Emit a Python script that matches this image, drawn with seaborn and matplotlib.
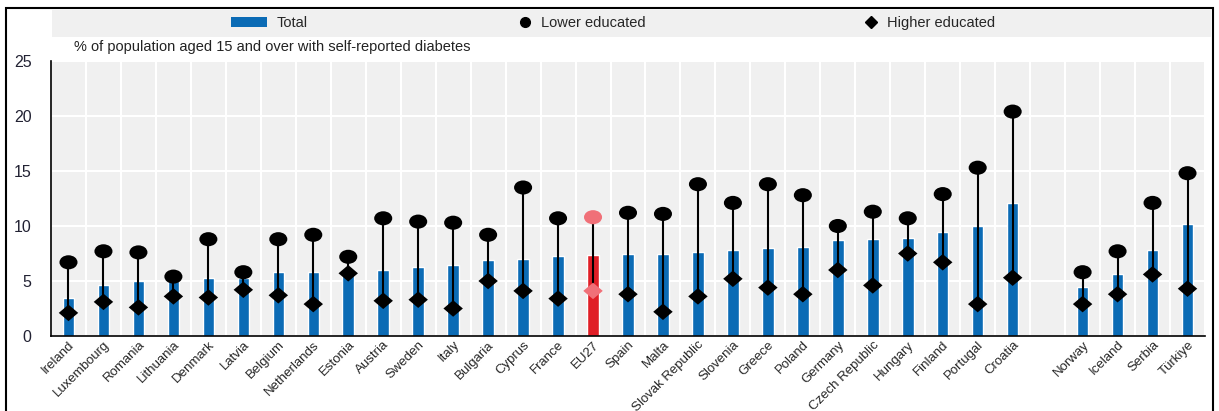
"""
Self-reported diabetes by education level
"""

import numpy as np
import pandas as pd
import matplotlib
matplotlib.use('Agg')
import matplotlib.pyplot as plt
from matplotlib.patches import Rectangle
from matplotlib.path import Path
from matplotlib.lines import Line2D
from matplotlib.patches import Patch
import seaborn as sns

# Data
countries = ['Ireland', 'Luxembourg', 'Romania', 'Lithuania', 'Denmark', 'Latvia',
             'Belgium', 'Netherlands', 'Estonia', 'Austria', 'Sweden', 'Italy',
             'Bulgaria', 'Cyprus', 'France', 'EU27', 'Spain', 'Malta',
             'Slovak Republic', 'Slovenia', 'Greece', 'Poland', 'Germany',
             'Czech Republic', 'Hungary', 'Finland', 'Portugal', 'Croatia',
             'Norway', 'Iceland', 'Serbia', 'Türkiye']
total = [3.5, 4.6, 5.0, 5.0, 5.3, 5.3, 5.8, 5.8, 5.7, 6.0, 6.3, 6.5, 6.9, 7.0,
         7.3, 7.4, 7.5, 7.5, 7.6, 7.8, 8.0, 8.1, 8.7, 8.8, 8.9, 9.5, 10.0, 12.1,
         4.5, 5.6, 7.8, 10.2]
lower = [6.7, 7.7, 7.6, 5.4, 8.8, 5.8, 8.8, 9.2, 7.2, 10.7, 10.4, 10.3, 9.2, 13.5,
         10.7, 10.8, 11.2, 11.1, 13.8, 12.1, 13.8, 12.8, 10.0, 11.3, 10.7, 12.9,
         15.3, 20.4, 5.8, 7.7, 12.1, 14.8]
higher = [2.1, 3.1, 2.6, 3.6, 3.5, 4.2, 3.7, 2.9, 5.7, 3.2, 3.3, 2.5, 5.0, 4.1,
          3.4, 4.1, 3.8, 2.2, 3.6, 5.2, 4.4, 3.8, 6.0, 4.6, 7.5, 6.7, 2.9, 5.3,
          2.9, 3.8, 5.6, 4.3]

# empty slot between EU countries and the others
order = countries[:28] + [' '] + countries[28:]

df = pd.DataFrame({'country': countries, 'total': total,
                   'lower': lower, 'higher': higher})
df['pos'] = [order.index(c) for c in df['country']]

BLUE = '#0b6bb5'
RED = '#e01e26'
PINK = '#f07078'
palette = {c: (RED if c == 'EU27' else BLUE) for c in countries}

sns.set_style('white', {'axes.facecolor': '#f0f0f0'})
plt.rcParams['font.family'] = ['Liberation Sans', 'DejaVu Sans']

fig = plt.figure(figsize=(12.19, 4.11), dpi=100)
W, H = 1219, 411
ax = fig.add_axes([51 / W, 1 - 336 / H, (1205 - 51) / W, (336 - 61) / H])

sns.barplot(data=df, x='country', y='total', order=order, hue='country',
            palette=palette, legend=False, width=0.33, saturation=1,
            ax=ax, zorder=2)

# range lines and markers
ax.vlines(df['pos'], df['higher'], df['lower'], color='black', lw=1.5, zorder=3)

ell = Path.unit_circle()
ell = Path(ell.vertices * np.array([1.0, 0.78]), ell.codes)
dia = Path([(-1, 0), (0, 0.85), (1, 0), (0, -0.85), (-1, 0)],
           [Path.MOVETO, Path.LINETO, Path.LINETO, Path.LINETO, Path.CLOSEPOLY])

mcol = [PINK if c == 'EU27' else 'black' for c in df['country']]
ax.scatter(df['pos'], df['lower'], marker=ell, s=13 ** 2, c=mcol,
           linewidths=0, zorder=4)
ax.scatter(df['pos'], df['higher'], marker=dia, s=14 ** 2, c=mcol,
           linewidths=0, zorder=4)

# axes styling
ax.set_xlim(-0.5, len(order) - 0.5)
ax.set_ylim(0, 25)
ax.set_yticks([0, 5, 10, 15, 20, 25])
ax.set_xticks(np.arange(len(order) + 1) - 0.5, minor=True)
ax.grid(True, which='minor', axis='x', color='white', lw=1.5, zorder=0)
ax.grid(True, which='major', axis='y', color='white', lw=1.5, zorder=0)
ax.set_axisbelow(True)
ax.set_xlabel('')
ax.set_ylabel('')
for s in ['top', 'right']:
    ax.spines[s].set_visible(False)
for s in ['left', 'bottom']:
    ax.spines[s].set_color('black')
    ax.spines[s].set_linewidth(1.2)

ax.tick_params(axis='x', which='major', length=0, pad=2)
ax.tick_params(axis='x', which='minor', direction='in', length=5, width=1,
               color='black')
ax.tick_params(axis='y', direction='in', length=6, width=1, color='black',
               labelsize=11.5, pad=14, labelcolor='#222233')
ax.set_xticks(range(len(order)))
ax.set_xticklabels(order, rotation=45, ha='right', rotation_mode='anchor',
                   fontsize=9.5)

# legend band
fig.patches.append(Rectangle((52 / W, 1 - 37 / H), (1211 - 52) / W, 27 / H,
                             transform=fig.transFigure, facecolor='#f0f0f0',
                             edgecolor='none', zorder=0))
h_total = Patch(facecolor=BLUE, edgecolor='none')
h_low = Line2D([], [], ls='none', marker='o', color='black', markersize=7)
h_high = Line2D([], [], ls='none', marker='D', color='black', markersize=6)
leg_y = 1 - 23 / H
for h, lab, x0, hl in [(h_total, 'Total', 231, 2.5), (h_low, 'Lower educated', 518, 1.0),
                       (h_high, 'Higher educated', 864, 1.0)]:
    fig.legend(handles=[h], labels=[lab], loc='center left',
               bbox_to_anchor=(x0 / W, leg_y), frameon=False, fontsize=10.5,
               handlelength=hl, handleheight=0.7, handletextpad=0.6,
               borderpad=0, borderaxespad=0)

fig.text(74 / W, 1 - 47 / H,
         '% of population aged 15 and over with self-reported diabetes',
         fontsize=10.5, va='center', ha='left', color='#222222')

# outer frame
fig.patches.append(Rectangle((6 / W, -0.05), (1213 - 6) / W, 1.05 - 8 / H,
                             transform=fig.transFigure, facecolor='none',
                             edgecolor='black', lw=1.5, zorder=10))

fig.savefig('out.png', dpi=100)
